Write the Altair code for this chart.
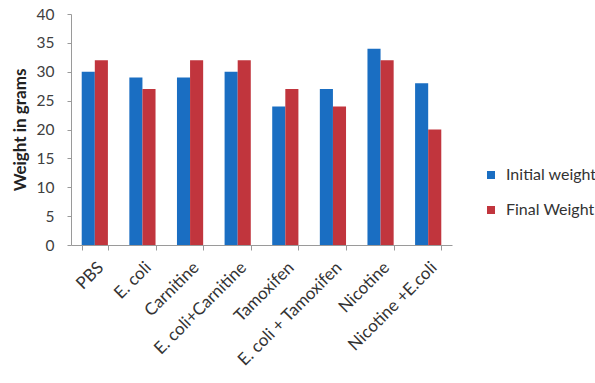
import altair as alt
import pandas as pd

categories = ["PBS", "E. coli", "Carnitine", "E. coli+Carnitine", "Tamoxifen",
              "E. coli + Tamoxifen", "Nicotine", "Nicotine +E.coli"]
initial_weight = [30, 29, 29, 30, 24, 27, 34, 28]
final_weight = [32, 27, 32, 32, 27, 24, 32, 20]
series = ["Initial weight", "Final Weight"]
colors = ["#1a6ec2", "#c1353d"]

rows = []
for cat, a, b in zip(categories, initial_weight, final_weight):
    rows.append({"group": cat, "series": series[0], "weight": a})
    rows.append({"group": cat, "series": series[1], "weight": b})
df = pd.DataFrame(rows)

FONT = "Lato"

chart = alt.Chart(df).mark_bar().encode(
    x=alt.X("group:N", sort=categories, title=None,
            scale=alt.Scale(paddingInner=0.45, paddingOuter=0.225),
            axis=alt.Axis(labelAngle=-45, labelAlign="right", labelBaseline="top",
                          labelFontSize=17, labelColor="#333333", labelFont=FONT,
                          tickBand="extent", tickSize=5, tickColor="#9a9a9a",
                          domainColor="#9a9a9a", labelPadding=9)),
    xOffset=alt.XOffset("series:N", sort=series),
    y=alt.Y("weight:Q", title="Weight in grams",
            scale=alt.Scale(domain=[0, 40]),
            axis=alt.Axis(values=list(range(0, 41, 5)), grid=False,
                          labelFontSize=15.5, labelColor="#404040", labelFont=FONT,
                          tickSize=4, tickColor="#9a9a9a", domainColor="#9a9a9a",
                          labelPadding=13, titleFont=FONT, titleFontSize=17,
                          titleFontWeight="bold", titleColor="#222222",
                          titlePadding=7)),
    color=alt.Color("series:N", sort=series,
                    scale=alt.Scale(domain=series, range=colors),
                    legend=alt.Legend(title=None, orient="none", legendX=412, legendY=153,
                                      padding=0, symbolType="square", symbolSize=64,
                                      symbolStrokeWidth=0, labelFontSize=16,
                                      labelFont=FONT, labelColor="#333333",
                                      rowPadding=19, labelOffset=7)),
).properties(
    width=381, height=231,
    background="white",
    autosize=alt.AutoSizeParams(type="none"),
    padding={"left": 71, "top": 14, "right": 143, "bottom": 138},
).configure_view(stroke="transparent", strokeWidth=0)

chart.save("out.html", embed_options={"renderer": "svg", "actions": False})
